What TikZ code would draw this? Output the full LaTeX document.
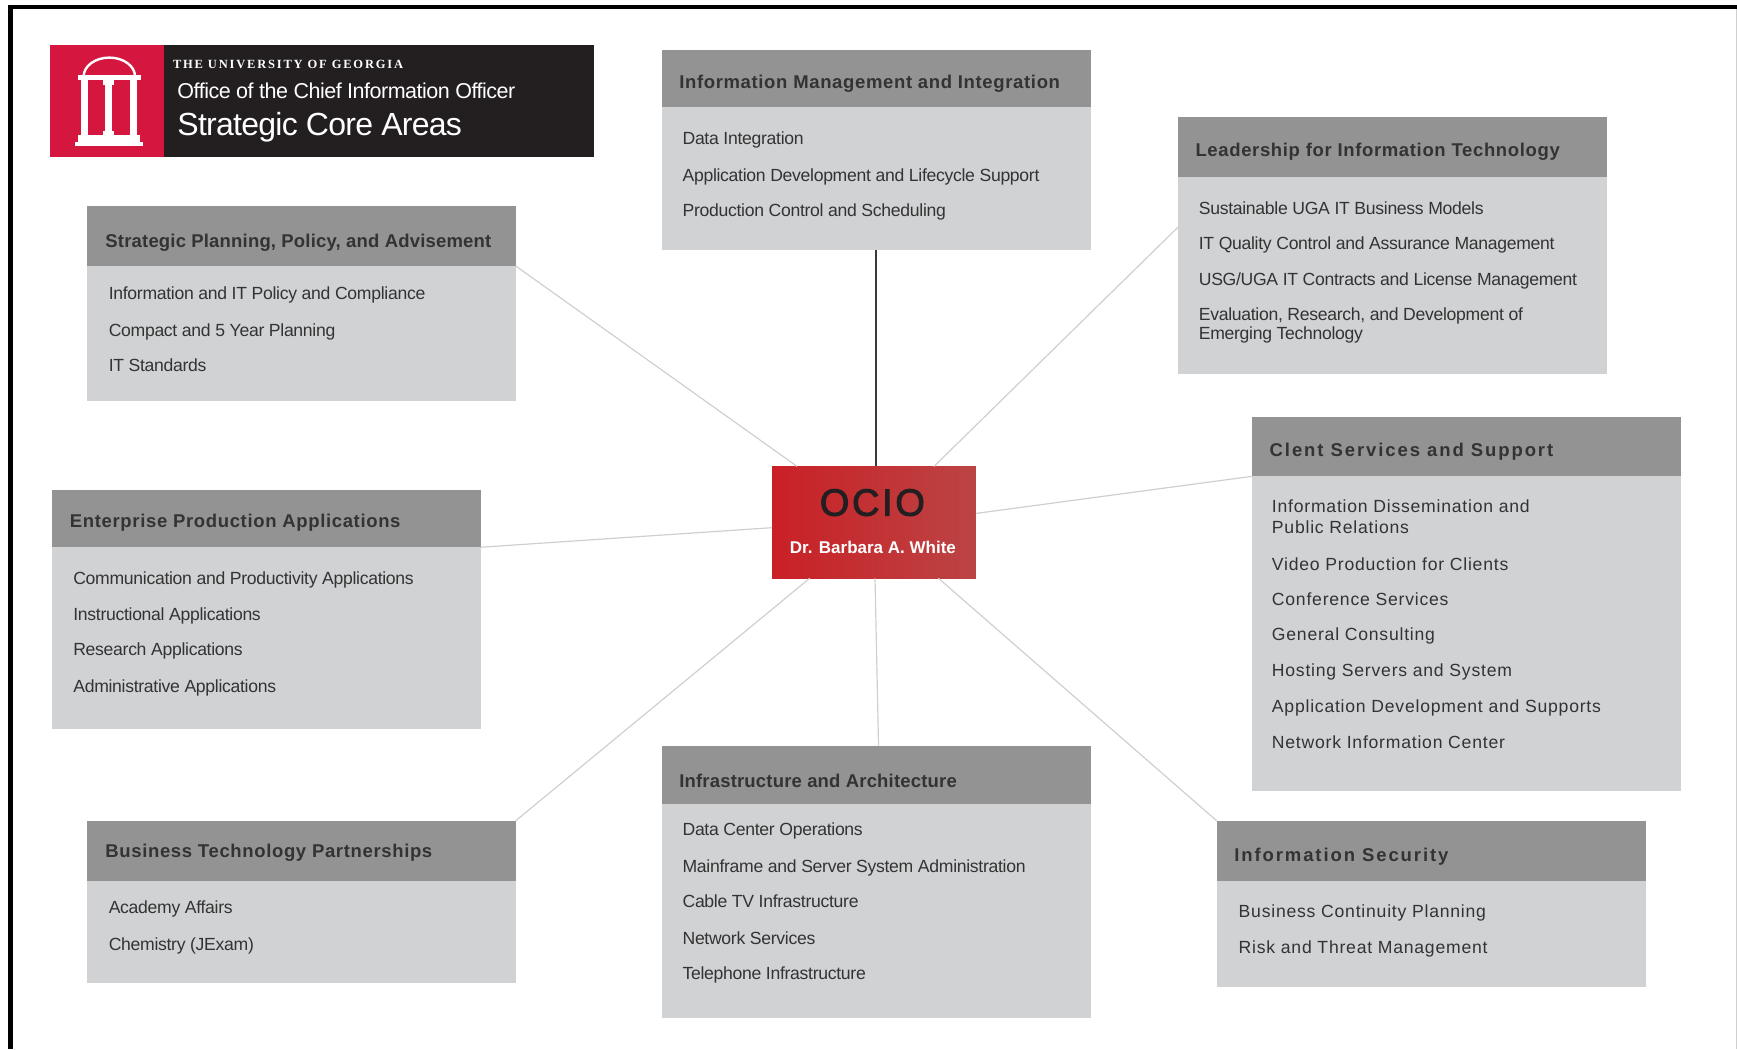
\documentclass[tikz,border=0pt]{standalone}
\usepackage{fontspec}
\setmainfont{Liberation Sans}
\newfontfamily\tight[LetterSpace=-2.3]{Liberation Sans}
\newfontfamily\bodyA[LetterSpace=-1.7]{Liberation Sans}
\newfontfamily\bodyB[LetterSpace=4.4]{Liberation Sans}
\newfontfamily\headA[LetterSpace=3.5]{Liberation Sans}
\newfontfamily\headN[LetterSpace=1]{Liberation Sans}
\newfontfamily\headW[LetterSpace=10.3]{Liberation Sans}
\newfontfamily\hubfont[LetterSpace=7,FakeBold=2.5]{Liberation Sans}
\newfontfamily\capsfont[LetterSpace=14.5]{Liberation Serif}
\usetikzlibrary{fit}
\definecolor{bodyfill}{HTML}{D1D2D4}
\definecolor{headfill}{HTML}{939393}
\definecolor{inkdark}{HTML}{333333}
\definecolor{linklight}{HTML}{CFCFCF}
\definecolor{linkdark}{HTML}{3A3A3A}
\definecolor{logoblack}{HTML}{231F20}
\definecolor{logored}{HTML}{D5173F}
\definecolor{ocioL}{HTML}{C92026}
\definecolor{ocioR}{HTML}{BC4444}
\tikzset{
 cardbody/.style={fill=bodyfill,inner sep=0pt,outer sep=0pt},
 cardhead/.style={fill=headfill,inner sep=0pt,outer sep=0pt},
 headtxt/.style={anchor=base west,inner sep=0pt,text=inkdark,font=\headA\bfseries\fontsize{18.5}{21}\selectfont},
 headnarrow/.style={headtxt,font=\headN\bfseries\fontsize{18.5}{21}\selectfont},
 headwide/.style={headtxt,font=\headW\bfseries\fontsize{18.5}{21}\selectfont},
 itemA/.style={anchor=base west,inner sep=0pt,text=inkdark,font=\bodyA\fontsize{17.6}{19.4}\selectfont},
 itemB/.style={anchor=base west,inner sep=0pt,text=inkdark,font=\bodyB\fontsize{17.6}{21}\selectfont},
 link/.style={draw=linklight,line width=1.2pt},
 linkstrong/.style={draw=linkdark,line width=1.8pt},
 logotxt/.style={anchor=base west,inner sep=0pt,text=white},
}
\newcommand\card[6]{%
 \node[cardbody,fit={(#2,#3)(#4,#5)}] (#1) {};
 \node[cardhead,fit={(#2,#3)(#4,#6)}] (#1h) {};
}
\begin{document}
\begin{tikzpicture}[x=1.10778pt,y=-1.10778pt]
\useasboundingbox (0,0) rectangle (1568,947);
% page frame
\fill[black] (7.5,4.5) rectangle (1568,8.2);
\fill[black] (7.5,4.5) rectangle (11.7,947);
\fill[linklight] (1566.8,8.2) rectangle (1568,947);
% logo
\node[fill=logored,inner sep=0pt,outer sep=0pt,fit={(45,41)(148,142)}] (logoR) {};
\node[fill=logoblack,inner sep=0pt,outer sep=0pt,fit={(148,41)(536,142)}] (logoB) {};
\begin{scope}[white]
 \fill (67.8,128.2) rectangle (129.5,131.8);
 \fill (70.7,122.2) rectangle (126,128.2);
 \fill (72.8,72.5) rectangle (79.7,122.2);
 \fill (94.8,72.5) rectangle (101.4,122.2);
 \fill (93.3,72.5) rectangle (103,77);
 \fill (93.3,118) rectangle (103,122.2);
 \fill (117.4,72.5) rectangle (124,122.2);
 \fill (70.7,68) rectangle (127,72.5);
 \draw[line width=2.4pt] (75.5,69) arc[start angle=180,end angle=360,x radius=23.2,y radius=17];
\end{scope}
\node[logotxt,font=\capsfont\bfseries\fontsize{12.5}{14}\selectfont] (uga) at (156,62) {THE UNIVERSITY OF GEORGIA};
\node[logotxt,font=\tight\fontsize{21.5}{24}\selectfont] (ocf) at (160,88.5) {Office of the Chief Information Officer};
\node[logotxt,font=\tight\fontsize{32}{36}\selectfont] (sca) at (160,122.5) {Strategic Core Areas};
% cards
\card{strat}{78.4}{186}{465.4}{362}{240}
\node[headnarrow] (stratt) at (95,223.5) {Strategic Planning, Policy, and Advisement};
\node[itemA] (s1) at (98,270) {Information and IT Policy and Compliance};
\node[itemA] (s2) at (98,304) {Compact and 5 Year Planning};
\node[itemA] (s3) at (98,335) {IT Standards};
\card{imi}{597.4}{45}{984.4}{226}{97}
\node[headtxt] (imit) at (613,80) {Information Management and Integration};
\node[itemA] (m1) at (616,130) {Data Integration};
\node[itemA] (m2) at (616,164) {Application Development and Lifecycle Support};
\node[itemA] (m3) at (616,195) {Production Control and Scheduling};
\card{lead}{1063.4}{106}{1450.4}{338}{160}
\node[headtxt] (leadt) at (1079,141) {Leadership for Information Technology};
\node[itemA] (l1) at (1082,194) {Sustainable UGA IT Business Models};
\node[itemA] (l2) at (1082,225) {IT Quality Control and Assurance Management};
\node[itemA] (l3) at (1082,258) {USG/UGA IT Contracts and License Management};
\node[itemA] (l4) at (1082,289) {\vtop{\hbox{Evaluation, Research, and Development of}\hbox{Emerging Technology}}};
\card{cli}{1130}{376}{1517}{714}{430}
\node[headwide] (clit) at (1146,412) {Clent Services and Support};
\node[itemB] (c1) at (1148,463) {\vtop{\hbox{Information Dissemination and}\hbox{Public Relations}}};
\node[itemB] (c2) at (1148,515) {Video Production for Clients};
\node[itemB] (c3) at (1148,547) {Conference Services};
\node[itemB] (c4) at (1148,578) {General Consulting};
\node[itemB] (c5) at (1148,611) {Hosting Servers and System};
\node[itemB] (c6) at (1148,643) {Application Development and Supports};
\node[itemB] (c7) at (1148,676) {Network Information Center};
\card{ent}{47}{442}{434}{658}{494}
\node[headtxt] (entt) at (63,476.5) {Enterprise Production Applications};
\node[itemA] (e1) at (66,528) {Communication and Productivity Applications};
\node[itemA] (e2) at (66,560) {Instructional Applications};
\node[itemA] (e3) at (66,592) {Research Applications};
\node[itemA] (e4) at (66,625) {Administrative Applications};
\card{biz}{78.4}{741}{465.4}{887}{795}
\node[headtxt] (bizt) at (95,774) {Business Technology Partnerships};
\node[itemA] (b1) at (98,825) {Academy Affairs};
\node[itemA] (b2) at (98,858) {Chemistry (JExam)};
\card{inf}{597.4}{673}{984.4}{919}{726}
\node[headnarrow] (inft) at (613,711) {Infrastructure and Architecture};
\node[itemA] (i1) at (616,754) {Data Center Operations};
\node[itemA] (i2) at (616,788) {Mainframe and Server System Administration};
\node[itemA] (i3) at (616,819) {Cable TV Infrastructure};
\node[itemA] (i4) at (616,853) {Network Services};
\node[itemA] (i5) at (616,884) {Telephone Infrastructure};
\card{sec}{1098.4}{741}{1485.4}{891}{795}
\node[headwide] (sect) at (1114,777.5) {Information Security};
\node[itemB] (n1) at (1118,828) {Business Continuity Planning};
\node[itemB] (n2) at (1118,861) {Risk and Threat Management};
% hub
\node[left color=ocioL,right color=ocioR,inner sep=0pt,outer sep=0pt,fit={(697,421)(881,522)}] (ocio) {};
\node[anchor=base,inner sep=0pt,text=logoblack,font=\hubfont\fontsize{38}{40}\selectfont] (ociot) at (787.5,465.5) {OCIO};
\node[anchor=base,inner sep=0pt,text=white,font=\bfseries\fontsize{17}{19}\selectfont] (ocion) at (788,499.5) {Dr. Barbara A. White};
% connectors
\draw[link] (strath.south east) -- (ocio.144.6);
\draw[linkstrong] (imi.south) -- (ocio.north -| imi.south);
\draw[link] (lead.175.6) -- (ocio.43.1);
\draw[link] (clih.south west) -- (ocio.5.9);
\draw[link] (enth.south east) -- (ocio.183.4);
\draw[link] (biz.north east) -- (ocio.221);
\draw[link] (inf.89.5) -- (ocio.271);
\draw[link] (sec.north west) -- (ocio.319);
\end{tikzpicture}
\end{document}
